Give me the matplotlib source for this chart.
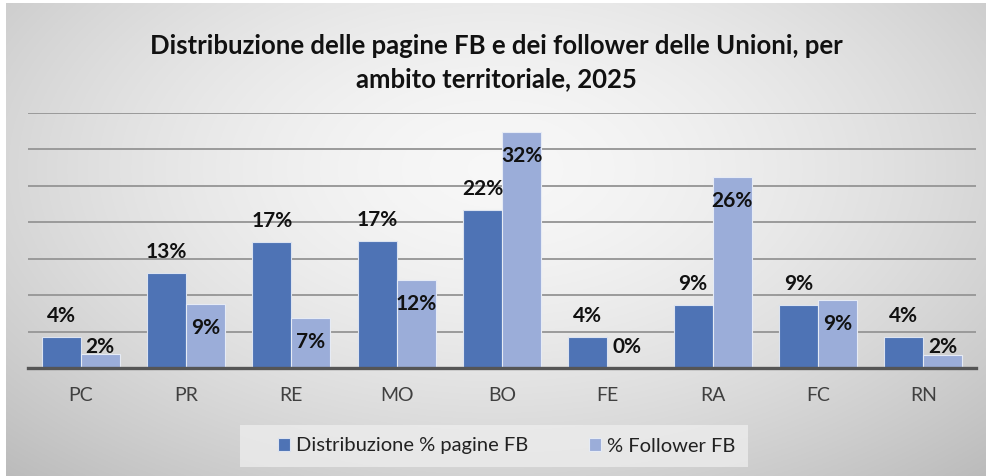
import numpy as np
import matplotlib
matplotlib.use("Agg")
import matplotlib.pyplot as plt
from matplotlib.patches import Rectangle

# ---- data ----
categories = ["PC", "PR", "RE", "MO", "BO", "FE", "RA", "FC", "RN"]
pagine_fb = [4.3, 13.0, 17.3, 17.4, 21.7, 4.2, 8.7, 8.7, 4.3]
follower_fb = [1.9, 8.8, 6.9, 12.0, 32.4, 0.0, 26.2, 9.3, 1.8]
series_names = ["Distribuzione % pagine FB", "% Follower FB"]
title = "Distribuzione delle pagine FB e dei follower delle Unioni, per\nambito territoriale, 2025"

W, H, DPI = 987, 476, 100
fig = plt.figure(figsize=(W / DPI, H / DPI), dpi=DPI)
fig.patch.set_facecolor("white")

# background gradient (chart area)
bg = fig.add_axes([6 / W, 0, 1 - 6 / W, 1 - 3 / H], zorder=-10)
yy, xx = np.mgrid[0:1:300j, 0:1:600j]
r = np.sqrt(((xx - 0.5) / 0.62) ** 2 + ((yy - 0.35) / 0.75) ** 2)
val = 0.97 - 0.18 * np.clip(r, 0, 1.3) ** 1.6
bg.imshow(np.dstack([val, val, val]), aspect="auto", extent=[0, 1, 0, 1], origin="upper")
bg.set_axis_off()

font = ["Lato", "DejaVu Sans"]
dark = "#4E73B5"
light = "#9BADD9"

ax = fig.add_axes([28 / W, 1 - 368 / H, (976 - 28) / W, (368 - 112.7) / H])
ax.set_facecolor("none")
x = np.arange(len(categories))
bw = 0.37
b1 = ax.bar(x - bw / 2, pagine_fb, bw, color=dark, edgecolor="#DCE3F0", linewidth=0.8, zorder=3,
            label=series_names[0])
b2 = ax.bar(x + bw / 2, follower_fb, bw, color=light, edgecolor="#E6EBF5", linewidth=0.8, zorder=3,
            label=series_names[1])
ax.set_xlim(-0.5, len(categories) - 0.5)
ax.set_ylim(0, 35)
ax.set_yticks(np.arange(5, 36, 5))
ax.yaxis.grid(True, color="#9A9A9A", linewidth=1.4, zorder=1)
ax.tick_params(axis="y", left=False, labelleft=False)
ax.tick_params(axis="x", bottom=False, pad=10)
ax.set_xticks(x)
ax.set_xticklabels(categories, fontsize=14, color="#404040", family=font)
for s in ["left", "right", "top"]:
    ax.spines[s].set_visible(False)
ax.spines["bottom"].set_color("#555555")
ax.spines["bottom"].set_linewidth(2.4)
ax.spines["bottom"].set_zorder(4)

# data labels
px_per_unit = (368 - 112.7) / 35.0
for xi, v in zip(x, pagine_fb):
    ax.annotate(f"{round(v)}%", (xi - bw / 2, v), xytext=(0, 21), textcoords="offset pixels",
                ha="center", va="center", fontsize=15, fontweight="bold", family=font, zorder=5,
                color="#111111")
for xi, v in zip(x, follower_fb):
    off = -24
    if v * px_per_unit + off < 21:
        off = 21 - v * px_per_unit
    ax.annotate(f"{round(v)}%", (xi + bw / 2, v), xytext=(0, off), textcoords="offset pixels",
                ha="center", va="center", fontsize=15, fontweight="bold", family=font, zorder=5,
                color="#111111")

fig.text(0.5 + 3 / W, 1 - 63 / H, title, ha="center", va="center", fontsize=18.5, fontweight="bold",
         family=font, linespacing=1.45, color="#111111")

# legend box
fig.patches.append(Rectangle((240 / W, 1 - 467 / H), 508 / W, 42 / H, transform=fig.transFigure,
                             facecolor="#EEEEEE", edgecolor="none", alpha=0.75, zorder=1))
leg = fig.legend(handles=[b1, b2], labels=series_names, loc="center", bbox_to_anchor=(507 / W, 1 - 446 / H),
                 ncol=2, frameon=False, prop={"family": font, "size": 14.5},
                 handlelength=0.6, handleheight=0.6, handletextpad=0.3, columnspacing=3.0,
                 borderpad=0.3, borderaxespad=0)
for t in leg.get_texts():
    t.set_color("#222222")

fig.savefig("out.png", dpi=DPI)
